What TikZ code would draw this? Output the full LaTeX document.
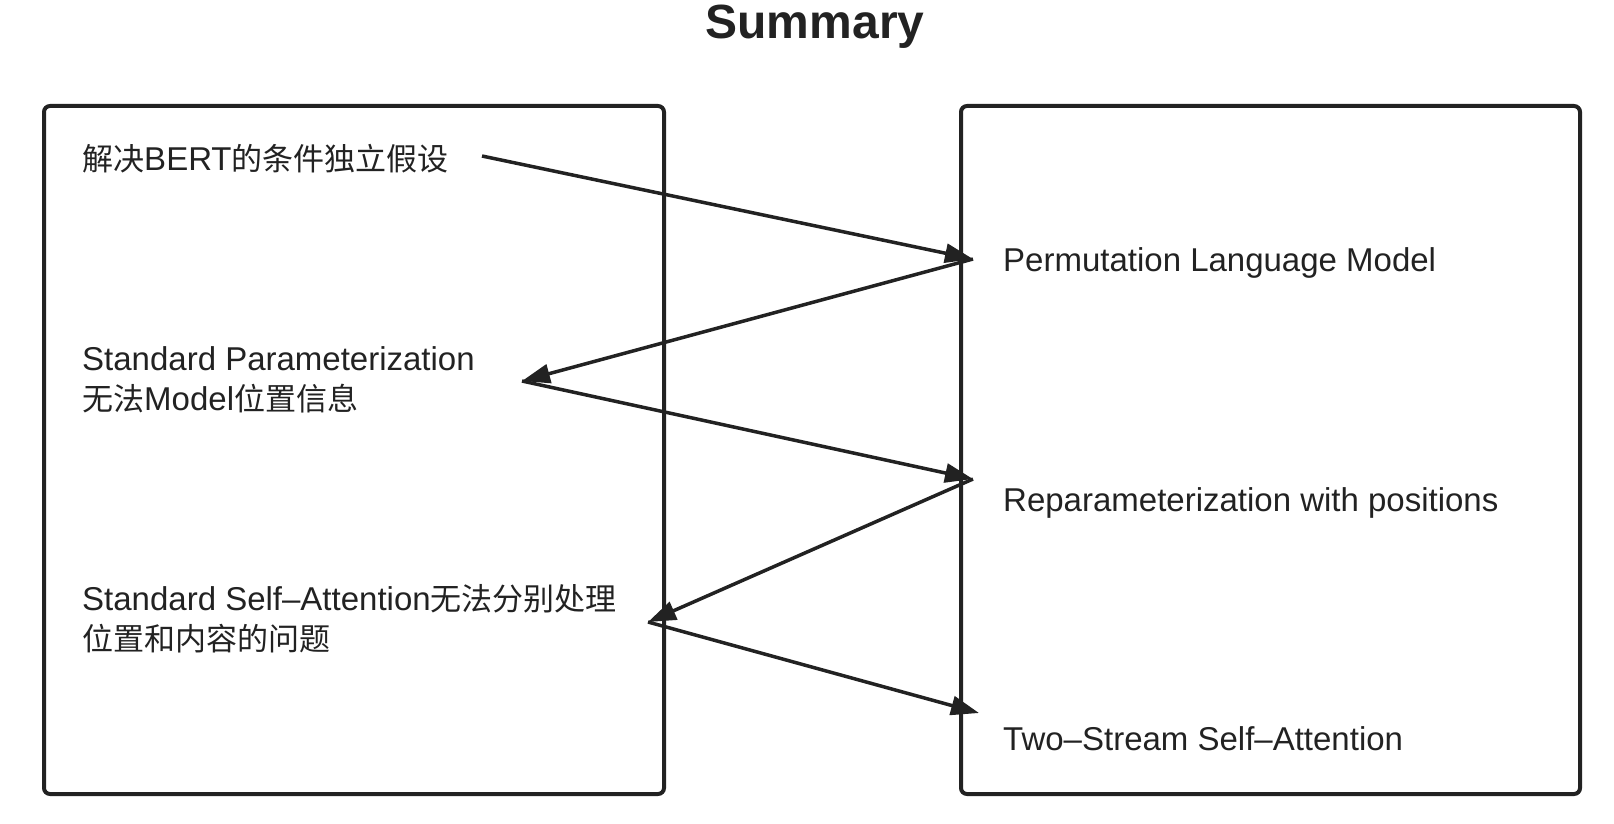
\documentclass[tikz,border=0pt]{standalone}
\usepackage{fontspec}
\usepackage{tikz}
\usetikzlibrary{arrows.meta}
\setmainfont{Liberation Sans}
\newfontfamily\cjk[Scale=0.94]{Noto Sans CJK SC}
\definecolor{ink}{HTML}{222222}

\tikzset{
  panel/.style={draw=ink, line width=4pt, rounded corners=6pt, inner sep=0pt},
  label/.style={text=ink, inner sep=0pt, anchor=base west, align=left,
    font=\fontsize{33}{40}\selectfont},
  link/.style={draw=ink, line width=3.5pt, -{Triangle[length=28pt,width=19pt]}}
}

\begin{document}
\begin{tikzpicture}[x=1pt,y=-1pt]
\useasboundingbox (0,0) rectangle (1614,824);
\node[text=ink, font=\fontsize{48}{56}\selectfont\bfseries, anchor=base] (title) at (815,39) {Summary};

\node[panel, minimum width=620pt, minimum height=688pt] (leftbox) at (354,450) {};
\node[panel, minimum width=619pt, minimum height=688pt] (rightbox) at (1270.5,450) {};

% left side (base = last line)
\node[label] (bert) at (82,171) {{\cjk 解决}BERT{\cjk 的条件独立假设}};
\node[label] (param) at (82,410) {Standard Parameterization\\{\cjk 无法}Model{\cjk 位置信息}};
\node[label] (selfatt) at (82,650) {Standard Self–Attention{\cjk 无法分别处理}\\{\cjk 位置和内容的问题}};

% right side
\node[label] (perm) at (1003,271) {Permutation Language Model};
\node[label] (repar) at (1003,511) {Reparameterization with positions};
\node[label] (twostream) at (1003,750) {Two–Stream Self–Attention};

\coordinate (p0) at (482,156);
\coordinate (q1) at (973,259);
\coordinate (p1) at (522,381);
\coordinate (q2) at (973,479);
\coordinate (p2) at (648,622);
\coordinate (q3) at (979,713);

\draw[link] (p0) -- (q1);
\draw[link] (q1) -- (p1);
\draw[link] (p1) -- (q2);
\draw[link] (q2) -- (p2);
\draw[link] (p2) -- (q3);
\end{tikzpicture}
\end{document}
